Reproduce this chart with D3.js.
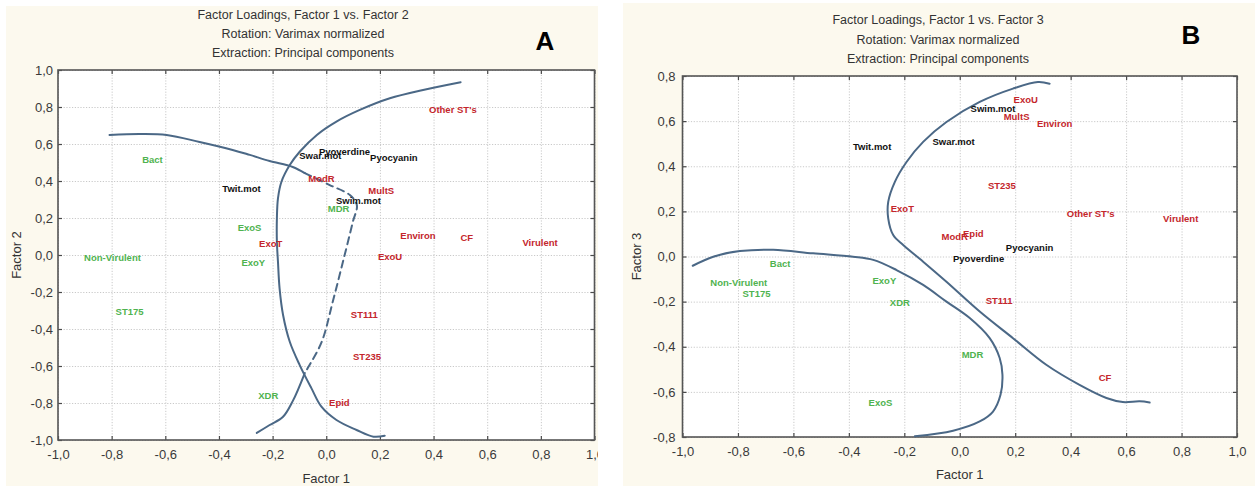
<!DOCTYPE html>
<html>
<head>
<meta charset="utf-8">
<script src="https://cdn.jsdelivr.net/npm/d3@7"></script>
<style>
  html, body { margin: 0; padding: 0; background: #ffffff; }
  svg { display: block; font-family: "Liberation Sans", Arial, sans-serif; }
  .grid line { stroke: #c9c9c9; stroke-dasharray: 1.2 1.6; }
  .grid path { display: none; }
  .tick-labels path, .tick-labels line { display: none; }
  .tick-labels text { fill: #3a3a3a; font-size: 13px; }
  .inner-ticks path { display: none; }
  .inner-ticks line { stroke: #4a4a4a; stroke-width: 1.2; }
</style>
</head>
<body>
<svg id="chart" width="1255" height="486"></svg>
<script>
// Variables shown in both loading plots
const variables = ["Other ST's", "Bact", "Twit.mot", "Swar.mot", "Pyoverdine", "Pyocyanin",
  "ModR", "MultS", "Swim.mot", "MDR", "Environ", "CF", "Virulent", "ExoU", "ExoS", "ExoT",
  "Non-Virulent", "ExoY", "ST175", "XDR", "ST111", "ST235", "Epid"];

// Loadings per factor (Varimax normalized, principal components)
const factor1 = [0.472, -0.648, -0.316, -0.022, 0.068, 0.252,
  -0.018, 0.205, 0.120, 0.046, 0.342, 0.524, 0.797, 0.238, -0.286, -0.207,
  -0.797, -0.272, -0.733, -0.216, 0.142, 0.152, 0.049];
const factor2 = [0.784, 0.514, 0.362, 0.537, 0.562, 0.526,
  0.414, 0.351, 0.294, 0.249, 0.103, 0.097, 0.070, -0.009, 0.151, 0.063,
  -0.011, -0.038, -0.303, -0.762, -0.324, -0.546, -0.796];
const factor3 = [0.189, -0.030, 0.489, 0.508, -0.008, 0.041,
  0.088, 0.622, 0.656, -0.433, 0.589, -0.538, 0.170, 0.697, -0.645, 0.212,
  -0.116, -0.107, -0.166, -0.203, -0.196, 0.313, 0.101];

// Label group of each variable
const groups = ["clinical", "resistance", "motility", "motility", "motility", "motility",
  "clinical", "clinical", "motility", "resistance", "clinical", "clinical", "clinical", "clinical", "resistance", "clinical",
  "resistance", "resistance", "resistance", "resistance", "clinical", "clinical", "clinical"];

// Tick values
const ticksA = [-1.0, -0.8, -0.6, -0.4, -0.2, 0.0, 0.2, 0.4, 0.6, 0.8, 1.0];
const ticksB_y = [-0.8, -0.6, -0.4, -0.2, 0.0, 0.2, 0.4, 0.6, 0.8];

// Hand-drawn grouping curves, in loading units
const curveA1 = [[-0.808, 0.649], [-0.696, 0.654], [-0.595, 0.649], [-0.472, 0.611], [-0.349, 0.568],
  [-0.285, 0.541], [-0.211, 0.508], [-0.125, 0.476], [-0.080, 0.443]];
const curveA1Dashed = [[-0.080, 0.443], [0.013, 0.378], [0.088, 0.324], [0.114, 0.270], [0.099, 0.178],
  [0.062, -0.038], [0.024, -0.254], [-0.017, -0.470], [-0.069, -0.611], [-0.080, -0.638]];
const curveA1Tail = [[-0.080, -0.638], [-0.125, -0.790], [-0.162, -0.876], [-0.211, -0.919], [-0.259, -0.962]];
const curveA2 = [[0.501, 0.934], [0.361, 0.892], [0.237, 0.847], [0.125, 0.784], [0.038, 0.721],
  [-0.035, 0.649], [-0.099, 0.558], [-0.136, 0.486], [-0.167, 0.396], [-0.180, 0.306],
  [-0.184, 0.198], [-0.184, 0.072], [-0.180, -0.036], [-0.174, -0.180], [-0.161, -0.324],
  [-0.136, -0.469], [-0.099, -0.595], [-0.055, -0.721], [-0.018, -0.820], [0.038, -0.892],
  [0.113, -0.946], [0.176, -0.982], [0.218, -0.977]];
const curveB1 = [[0.324, 0.766], [0.282, 0.773], [0.192, 0.744], [0.072, 0.685], [-0.048, 0.596],
  [-0.132, 0.508], [-0.192, 0.419], [-0.234, 0.331], [-0.258, 0.242], [-0.258, 0.169],
  [-0.240, 0.095], [-0.204, 0.051], [-0.132, -0.023], [-0.048, -0.112], [0.072, -0.244],
  [0.192, -0.362], [0.312, -0.480], [0.432, -0.569], [0.529, -0.627], [0.588, -0.645],
  [0.649, -0.642], [0.685, -0.647]];
const curveB2 = [[-0.963, -0.041], [-0.889, -0.001], [-0.793, 0.024], [-0.673, 0.030], [-0.529, 0.014],
  [-0.385, -0.001], [-0.312, -0.015], [-0.228, -0.060], [-0.132, -0.126], [-0.048, -0.200],
  [0.036, -0.273], [0.108, -0.362], [0.144, -0.450], [0.154, -0.524], [0.147, -0.613],
  [0.120, -0.687], [0.072, -0.731], [-0.024, -0.772], [-0.162, -0.797]];

const colorOf = d3.scaleOrdinal()
  .domain(["clinical", "resistance", "motility"])
  .range(["#c4262c", "#4fb34f", "#111111"]);

const fmt = d => d.toFixed(1).replace(".", ",");
const svg = d3.select("#chart");

const rows = variables.map((name, i) => ({ name, f1: factor1[i], f2: factor2[i], f3: factor3[i], group: groups[i] }));

function panel(cfg) {
  const g = svg.append("g");
  if (cfg.clip) {
    svg.append("clipPath").attr("id", cfg.id + "-clip")
      .append("rect").attr("x", cfg.clip[0]).attr("y", cfg.clip[1])
      .attr("width", cfg.clip[2]).attr("height", cfg.clip[3]);
    g.attr("clip-path", `url(#${cfg.id}-clip)`);
  }
  // panel background
  g.append("rect").attr("x", cfg.bg[0]).attr("y", cfg.bg[1]).attr("width", cfg.bg[2]).attr("height", cfg.bg[3])
    .attr("fill", "#fcf9ee");

  const x = cfg.x, y = cfg.y;
  const [x0, x1] = x.range();
  const [y0, y1] = y.range(); // y0 bottom, y1 top

  g.append("rect").attr("x", x0).attr("y", y1).attr("width", x1 - x0).attr("height", y0 - y1).attr("fill", "#ffffff");

  // dotted grid
  g.append("g").attr("class", "grid").attr("transform", `translate(0,${y0})`)
    .call(d3.axisBottom(x).tickValues(cfg.xTicks).tickSize(-(y0 - y1)).tickFormat(""));
  g.append("g").attr("class", "grid").attr("transform", `translate(${x0},0)`)
    .call(d3.axisLeft(y).tickValues(cfg.yTicks).tickSize(-(x1 - x0)).tickFormat(""));

  // inward tick marks on all four sides
  g.append("g").attr("class", "inner-ticks").attr("transform", `translate(0,${y0})`)
    .call(d3.axisBottom(x).tickValues(cfg.xTicks).tickSize(-4).tickFormat(""));
  g.append("g").attr("class", "inner-ticks").attr("transform", `translate(0,${y1})`)
    .call(d3.axisTop(x).tickValues(cfg.xTicks).tickSize(-4).tickFormat(""));
  g.append("g").attr("class", "inner-ticks").attr("transform", `translate(${x0},0)`)
    .call(d3.axisLeft(y).tickValues(cfg.yTicks).tickSize(-4).tickFormat(""));
  g.append("g").attr("class", "inner-ticks").attr("transform", `translate(${x1},0)`)
    .call(d3.axisRight(y).tickValues(cfg.yTicks).tickSize(-4).tickFormat(""));

  // tick labels
  g.append("g").attr("class", "tick-labels").attr("transform", `translate(0,${y0})`)
    .call(d3.axisBottom(x).tickValues(cfg.xTicks).tickSize(0).tickPadding(cfg.xPad).tickFormat(fmt));
  g.append("g").attr("class", "tick-labels").attr("transform", `translate(${x0},0)`)
    .call(d3.axisLeft(y).tickValues(cfg.yTicks).tickSize(0).tickPadding(cfg.yPad).tickFormat(fmt));

  // frame
  g.append("rect").attr("x", x0).attr("y", y1).attr("width", x1 - x0).attr("height", y0 - y1)
    .attr("fill", "none").attr("stroke", "#555").attr("stroke-width", 1.6);

  // curves
  const line = d3.line().x(d => x(d[0])).y(d => y(d[1])).curve(d3.curveCatmullRom.alpha(0.5));
  cfg.curves.forEach(c => {
    g.append("path").attr("d", line(c.pts)).attr("fill", "none")
      .attr("stroke", "#4b6886").attr("stroke-width", 2)
      .attr("stroke-linecap", "round")
      .attr("stroke-dasharray", c.dashed ? "7 5" : null);
  });

  // variable labels
  g.append("g").selectAll("text").data(rows).join("text")
    .attr("x", d => x(d.f1)).attr("y", d => y(d[cfg.yKey]))
    .attr("text-anchor", "middle").attr("dominant-baseline", "central")
    .attr("font-size", 9.5).attr("font-weight", "bold")
    .attr("fill", d => colorOf(d.group))
    .text(d => d.name);

  // titles
  cfg.titles.forEach((t, i) => {
    g.append("text").attr("x", cfg.titleX).attr("y", cfg.titleY[i]).attr("text-anchor", "middle")
      .attr("dominant-baseline", "central").attr("font-size", 12.5).attr("fill", "#333").text(t);
  });
  g.append("text").attr("x", cfg.letter[0]).attr("y", cfg.letter[1]).attr("text-anchor", "middle")
    .attr("dominant-baseline", "central").attr("font-size", 26).attr("font-weight", "bold")
    .attr("fill", "#000").text(cfg.letter[2]);

  // axis titles
  g.append("text").attr("x", (x0 + x1) / 2).attr("y", cfg.xTitleY).attr("text-anchor", "middle")
    .attr("dominant-baseline", "central").attr("font-size", 13).attr("fill", "#333").text("Factor 1");
  g.append("text").attr("transform", `translate(${cfg.yTitleX},${(y0 + y1) / 2}) rotate(-90)`)
    .attr("text-anchor", "middle").attr("dominant-baseline", "central")
    .attr("font-size", 13).attr("fill", "#333").text(cfg.yTitle);
}

panel({
  id: "pa",
  clip: [0, 0, 598, 486],
  bg: [6, 6, 592, 480],
  x: d3.scaleLinear().domain([-1, 1]).range([58, 594.5]),
  y: d3.scaleLinear().domain([-1, 1]).range([440, 70]),
  xTicks: ticksA, yTicks: ticksA,
  xPad: 10, yPad: 5,
  yKey: "f2",
  curves: [{ pts: curveA1 }, { pts: curveA1Dashed, dashed: true }, { pts: curveA1Tail }, { pts: curveA2 }],
  titles: ["Factor Loadings, Factor 1 vs. Factor 2", "Rotation: Varimax normalized", "Extraction: Principal components"],
  titleX: 303, titleY: [15, 34, 53],
  letter: [545, 41, "A"],
  xTitleY: 478, yTitle: "Factor 2", yTitleX: 16
});

panel({
  id: "pb",
  clip: null,
  bg: [623, 3, 632, 483],
  x: d3.scaleLinear().domain([-1, 1]).range([682.5, 1237]),
  y: d3.scaleLinear().domain([-0.8, 0.8]).range([437, 76]),
  xTicks: ticksA, yTicks: ticksB_y,
  xPad: 10, yPad: 7,
  yKey: "f3",
  curves: [{ pts: curveB1 }, { pts: curveB2 }],
  titles: ["Factor Loadings, Factor 1 vs. Factor 3", "Rotation: Varimax normalized", "Extraction: Principal components"],
  titleX: 938, titleY: [20, 40, 59],
  letter: [1191, 35, "B"],
  xTitleY: 474, yTitle: "Factor 3", yTitleX: 636
});
</script>
</body>
</html>
